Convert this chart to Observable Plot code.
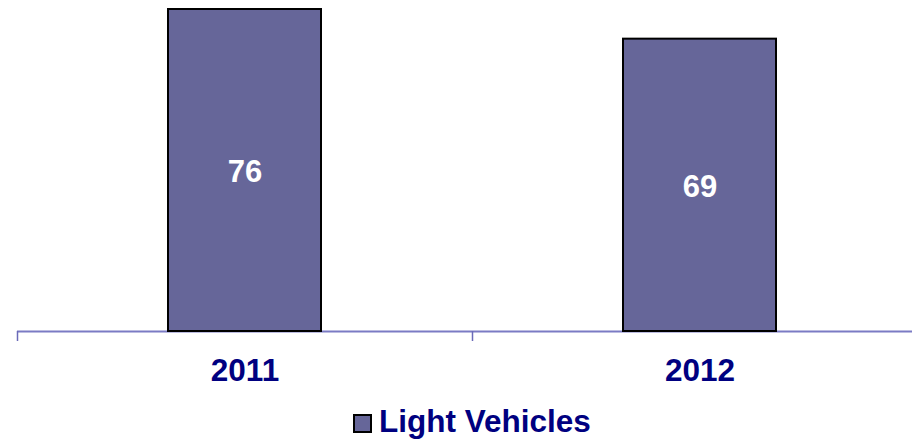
<!DOCTYPE html>
<html>
<head>
<meta charset="utf-8">
<script src="https://cdn.jsdelivr.net/npm/d3@7"></script>
<script src="https://cdn.jsdelivr.net/npm/@observablehq/plot@0.6"></script>
<style>
  html, body { margin: 0; padding: 0; background: #fff; }
  #chart svg { display: block; overflow: hidden; }
  .legend { display: flex; align-items: center; height: 42px; padding-left: 353px;
    font-family: "Liberation Sans", Arial, sans-serif; font-weight: bold; font-size: 31.5px; color: #000080; }
  .swatch { width: 15px; height: 15px; background: #666699; border: 2px solid #000; margin-right: 7px; margin-top: 4px; }
</style>
</head>
<body>
<div id="chart"></div>
<div class="legend"><span class="swatch"></span><span>Light Vehicles</span></div>
<script>
const years = ["2011", "2012"];
const lightVehicles = [76, 69];
const seriesName = "Light Vehicles";

const data = years.map((y, i) => ({year: y, value: lightVehicles[i]}));

const W = 912, mLeft = 17, mRight = -15;
const padInner = 0.6637, padOuter = padInner / 2;
const step = (W - mLeft - mRight) / (years.length - padInner + 2 * padOuter);
const pxPerUnit = (331 - 9) / 76;
const tickLenUnits = 10 / pxPerUnit;

const font = "Liberation Sans, Arial, sans-serif";

const chart = Plot.plot({
  width: W,
  height: 400,
  marginLeft: mLeft,
  marginRight: mRight,
  marginTop: 0,
  marginBottom: 0,
  x: {domain: years, paddingInner: padInner, paddingOuter: padOuter, axis: null},
  y: {domain: [0, 76], range: [331, 9], axis: null},
  marks: [
    Plot.ruleY([0], {stroke: "#7b7bc4", strokeWidth: 2}),
    Plot.ruleX(years, {x: d => d, dx: -step / 2, y1: 0, y2: -tickLenUnits, stroke: "#6a6ab8", strokeWidth: 1.5}),
    Plot.barY(data, {x: "year", y: "value", fill: "#666699", stroke: "#000", strokeWidth: 2}),
    Plot.text(data, {x: "year", y: d => d.value / 2, text: d => String(d.value), fill: "#fff",
      fontSize: 31, fontWeight: "bold", fontFamily: font, dy: 2}),
    Plot.text(data, {x: "year", y: 0, text: "year", fill: "#000080", fontSize: 31.5, fontWeight: "bold",
      fontFamily: font, dy: 39})
  ]
});
document.getElementById("chart").appendChild(chart);
</script>
</body>
</html>
